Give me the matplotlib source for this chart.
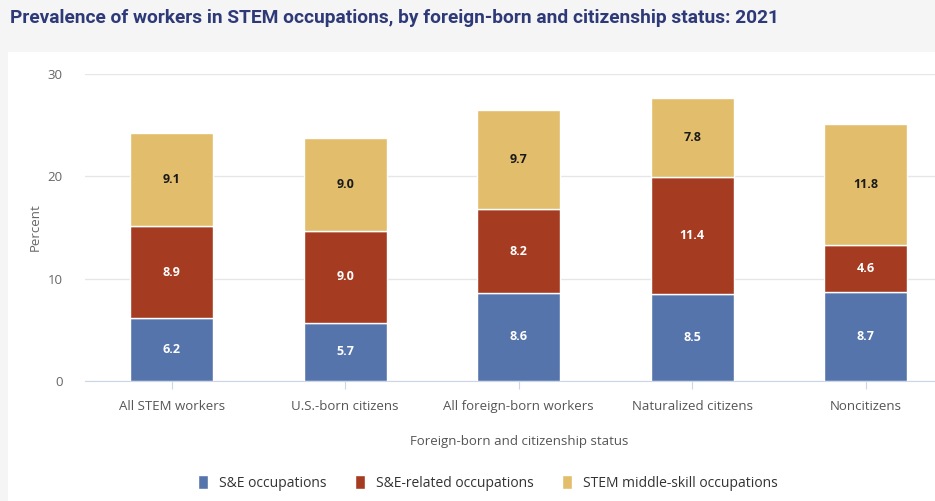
import numpy as np
import matplotlib.pyplot as plt
from matplotlib.patches import Rectangle

categories = ["All STEM workers", "U.S.-born citizens", "All foreign-born workers",
              "Naturalized citizens", "Noncitizens"]
se_occ = [6.2, 5.7, 8.6, 8.5, 8.7]
se_related = [8.9, 9.0, 8.2, 11.4, 4.6]
middle_skill = [9.1, 9.0, 9.7, 7.8, 11.8]

series = [
    ("S&E occupations", se_occ, "#5574ab", "white"),
    ("S&E-related occupations", se_related, "#a53c22", "white"),
    ("STEM middle-skill occupations", middle_skill, "#e2bd6c", "#1a1a1a"),
]

W, H = 935, 501
fig = plt.figure(figsize=(W / 100, H / 100), dpi=100)
fig.patch.set_facecolor("#f5f5f5")
# white chart panel under the title band
fig.add_artist(Rectangle((8 / W, 0), 1, 1 - 52 / H, transform=fig.transFigure,
                         facecolor="white", edgecolor="none", zorder=0))

ax = fig.add_axes([85 / W, (H - 381) / H, 1 - 85 / W, (381 - 74) / H])
ax.set_facecolor("white")

x = np.arange(len(categories))
bottom = np.zeros(len(categories))
handles = []
for name, vals, color, txt in series:
    vals = np.array(vals)
    bars = ax.bar(x, vals, 0.48, bottom=bottom, color=color, edgecolor="white",
                  linewidth=1.0, label=name, zorder=3)
    handles.append(bars)
    for xi, b, v in zip(x, bottom, vals):
        ax.text(xi, b + v / 2, f"{v:.1f}", ha="center", va="center",
                color=txt, fontsize=9, fontweight="bold", family="Open Sans", zorder=4)
    bottom += vals

ax.set_xlim(-0.5, 4.4)
ax.set_ylim(0, 30)
ax.set_yticks([0, 10, 20, 30])
ax.grid(axis="y", color="#e6e6e6", linewidth=1, zorder=0)
for s in ["top", "right", "left"]:
    ax.spines[s].set_visible(False)
ax.spines["bottom"].set_color("#ccd6eb")
ax.tick_params(axis="y", length=0, pad=16, labelsize=9.5, labelcolor="#666666")
ax.tick_params(axis="x", length=6, color="#ccd6eb", pad=8, labelsize=9.5,
               labelcolor="#555555")
ax.set_xticks(x)
ax.set_xticklabels(categories, family="Open Sans")
for lab in ax.get_yticklabels():
    lab.set_family("Open Sans")

ax.set_ylabel("Percent", fontsize=9.5, color="#666666", family="Open Sans", labelpad=4)
fig.text(519 / W, 1 - 441 / H, "Foreign-born and citizenship status", ha="center",
         va="center", fontsize=9.5, color="#555555", family="Open Sans")

fig.text(10 / W, 1 - 18 / H,
         "Prevalence of workers in STEM occupations, by foreign-born and citizenship status: 2021",
         ha="left", va="center", fontsize=13.8, fontweight="bold", color="#2e3a78",
         family="Roboto")

fig.legend(handles=handles, loc="center", bbox_to_anchor=(488 / W, 1 - 483 / H),
           ncol=3, frameon=False, handlelength=0.75, handleheight=1.2,
           columnspacing=2.0, handletextpad=0.8,
           prop={"family": "Open Sans", "size": 10})
for t in fig.legends[0].get_texts():
    t.set_color("#333333")

fig.savefig("out.png", dpi=100, facecolor=fig.get_facecolor())
